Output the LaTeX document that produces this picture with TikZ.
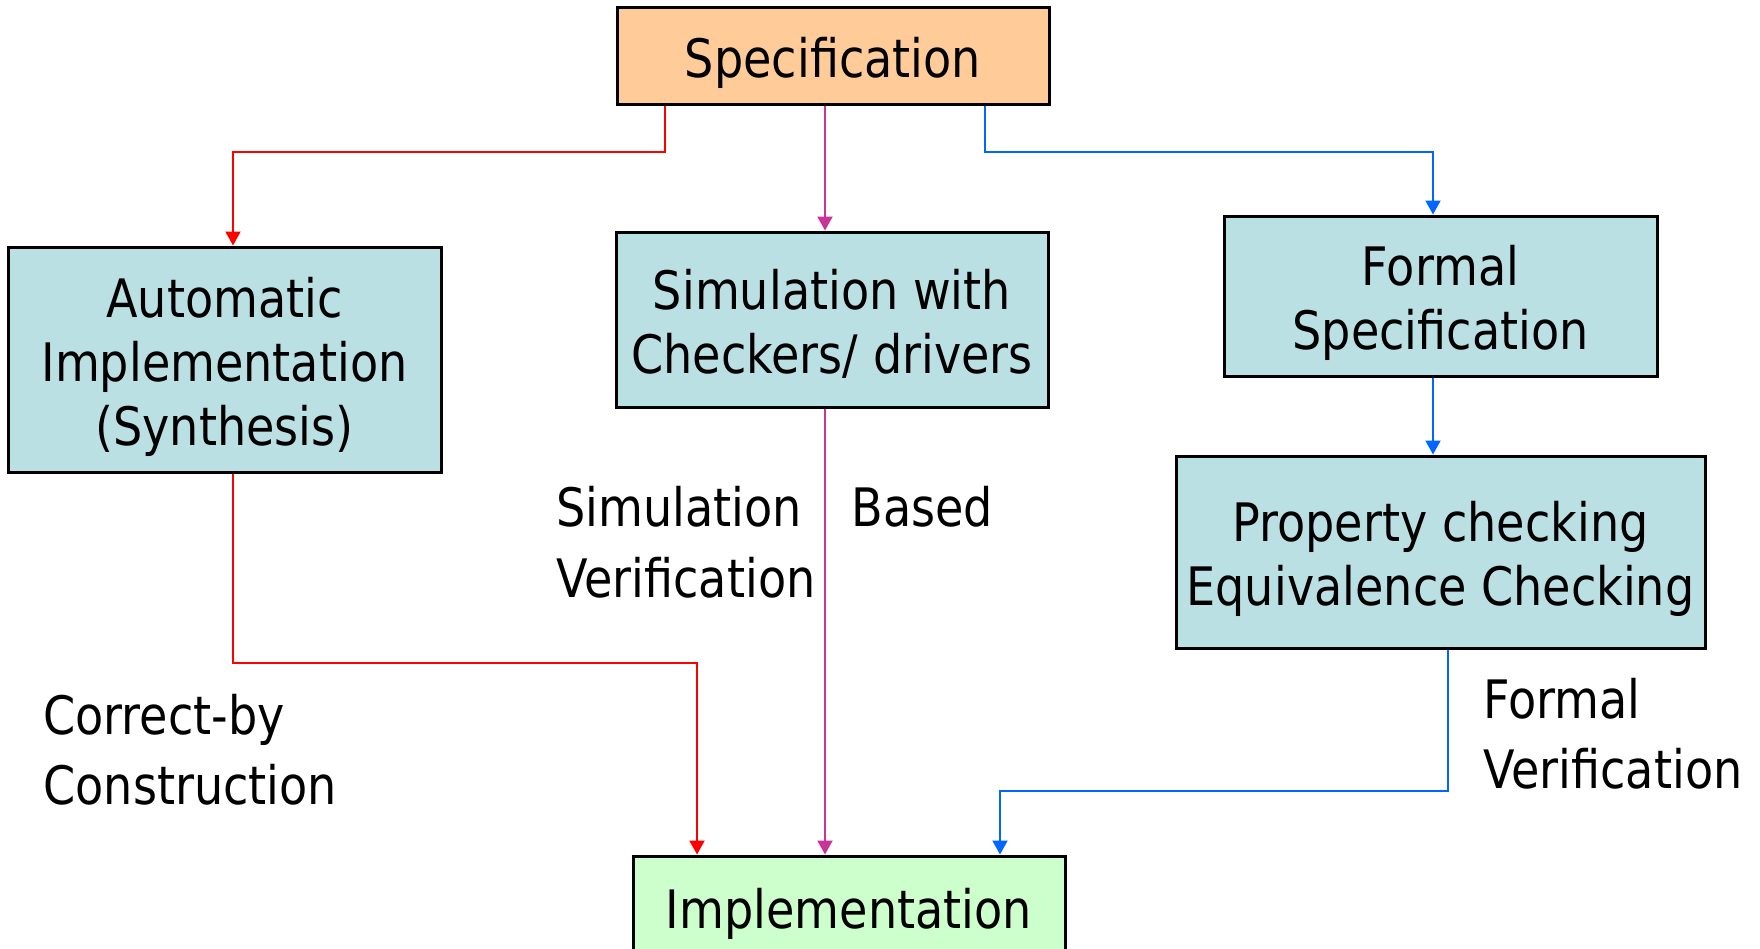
\documentclass[tikz,border=0pt]{standalone}
\usepackage{fontspec}
\setmainfont{DejaVu Sans}[FakeStretch=0.87]
\usetikzlibrary{arrows.meta}
\definecolor{specfill}{RGB}{255,204,153}
\definecolor{stagefill}{RGB}{187,224,227}
\definecolor{implfill}{RGB}{204,255,204}
\definecolor{redpath}{RGB}{255,0,0}
\definecolor{magpath}{RGB}{204,51,153}
\definecolor{bluepath}{RGB}{0,102,255}

% fixed first-line height and last-line depth, so every box sets its text alike
\newcommand\firstline{\rule{0pt}{28pt}}
\newcommand\lastline{\rule[-6.25pt]{0pt}{0pt}}

\begin{document}
\begin{tikzpicture}[x=0.5pt,y=-0.5pt,
  box/.style={draw=black, line width=1.5pt, align=center, inner sep=0pt,
              font=\fontsize{26.5}{32}\selectfont},
  lbl/.style={anchor=base west, inner sep=0pt, font=\fontsize{26.5}{32}\selectfont},
  conn/.style={line width=1pt, -{Triangle[width=7.5pt,length=7pt]}},
]
\useasboundingbox (0,0) rectangle (1760,948);

% boxes
\node[box, fill=specfill, minimum width=216pt, minimum height=48.5pt] (spec) at (833,55.5)
  {\firstline Specification\lastline};
\node[box, fill=stagefill, minimum width=216pt, minimum height=87.5pt] (sim) at (832,319.5)
  {\firstline Simulation with\\Checkers/ drivers\lastline};
\node[box, fill=stagefill, minimum width=216.5pt, minimum height=112.5pt] (synth) at (224.5,359.5)
  {\firstline Automatic\\Implementation\\(Synthesis)\lastline};
\node[box, fill=stagefill, minimum width=216.5pt, minimum height=80pt] (formal) at (1440.5,296)
  {\firstline Formal\\Specification\lastline};
\node[box, fill=stagefill, minimum width=264.5pt, minimum height=96pt] (prop) at (1440.5,552)
  {\firstline Property checking\\Equivalence Checking\lastline};
\node[box, fill=implfill, minimum width=216pt, minimum height=51pt] (impl) at (849,907)
  {\firstline Implementation\lastline};

% side labels
\node[lbl] (simA) at (556,526) {Simulation};
\node[lbl] (simB) at (556,597) {Verification};
\node[lbl] (simC) at (851,526) {Based};
\node[lbl] (cbcA) at (43,734) {Correct-by};
\node[lbl] (cbcB) at (43,804) {Construction};
\node[lbl] (fvA) at (1483,718) {Formal};
\node[lbl] (fvB) at (1483,788) {Verification};

% bend points
\coordinate (ra) at (665,152);
\coordinate (rb) at (233,152);
\coordinate (rc) at (233,663);
\coordinate (rd) at (697,663);
\coordinate (mx) at (825,0);
\coordinate (ba) at (985,152);
\coordinate (bb) at (1433,152);
\coordinate (bc) at (1448,791);
\coordinate (bd) at (1000,791);

% synthesis path
\draw[conn, redpath] (spec.south -| ra) -- (ra) -- (rb) -- (synth.north -| rb);
\draw[conn, redpath] (synth.south -| rc) -- (rc) -- (rd) -- (impl.north -| rd);
% simulation path
\draw[conn, magpath] (spec.south -| mx) -- (sim.north -| mx);
\draw[conn, magpath] (sim.south -| mx) -- (impl.north -| mx);
% formal path
\draw[conn, bluepath] (spec.south -| ba) -- (ba) -- (bb) -- (formal.north -| bb);
\draw[conn, bluepath] (formal.south -| bb) -- (prop.north -| bb);
\draw[conn, bluepath] (prop.south -| bc) -- (bc) -- (bd) -- (impl.north -| bd);
\end{tikzpicture}
\end{document}
